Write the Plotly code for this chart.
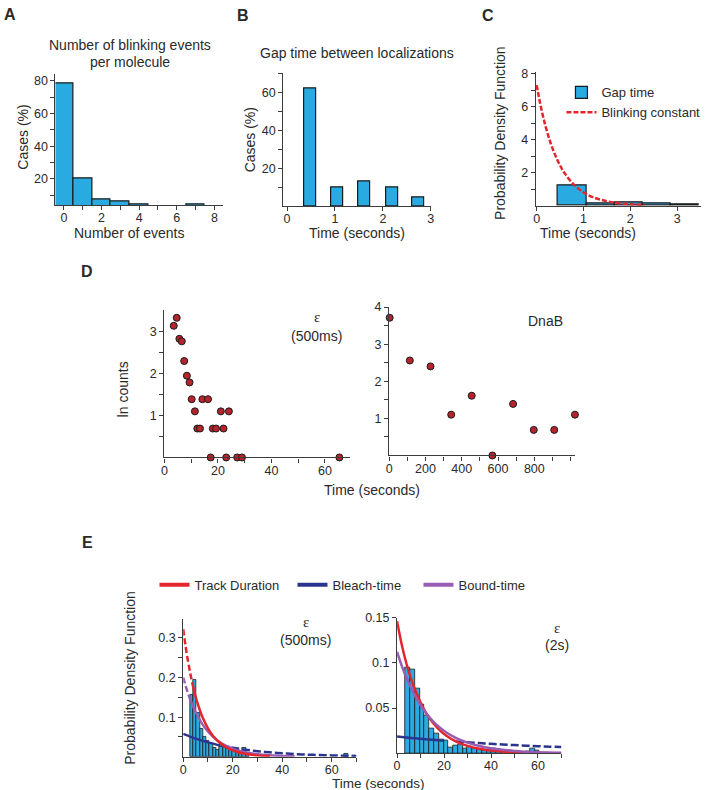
import plotly.graph_objects as go

W, H = 711, 790
def px(x): return x / W
def py(y): return 1 - y / H

# ---------------- data ----------------
# A: number of blinking events per molecule
a_events = [0, 1, 2, 3, 4, 5, 6, 7]
a_cases = [78.5, 20, 7.5, 6, 4.6, 0, 0, 4.6]

# B: gap time between localizations
b_time = [0.48, 1.05, 1.62, 2.19, 2.73]
b_cases = [62, 10, 13.3, 10, 5.1]

# C: gap-time PDF and blinking constant fit
c_time = [0.76, 1.36, 1.96, 2.56, 3.16]
c_pdf = [1.23, 0.17, 0.23, 0.17, 0.09]
c_fit_t = [0, 0.1, 0.2, 0.3, 0.4, 0.5, 0.6, 0.8, 1.0, 1.2, 1.5, 1.8, 2.1, 2.3]
c_fit_v = [7.3, 5.86, 4.71, 3.78, 3.04, 2.44, 1.96, 1.26, 0.81, 0.52, 0.27, 0.14, 0.072, 0.045]

# D: ln counts vs time
d1_time = [3.5, 4.6, 5.6, 6.5, 7.4, 8.4, 9.4, 10.2, 11.4, 12.3, 13.3, 14.2, 16.3,
           17.3, 18.1, 19.3, 21.1, 22.1, 23.1, 24.1, 27.2, 29.0, 65.4]
d1_ln = [3.14, 3.33, 2.83, 2.77, 2.30, 1.95, 1.79, 1.39, 1.10, 0.69, 0.69, 1.39, 1.39,
         0, 0.69, 0.69, 1.10, 0.69, 0, 1.10, 0, 0, 0]
d2_time = [3, 114, 228, 342, 455, 569, 683, 797, 910, 1024]
d2_ln = [3.71, 2.56, 2.40, 1.10, 1.61, 0, 1.39, 0.69, 0.69, 1.10]

# E left: epsilon 500 ms
e1_bin_t = [3.35, 4.68, 6.01, 7.34, 8.67, 10.0, 11.33, 12.66, 13.99, 15.32, 16.65,
            17.98, 19.31, 20.64, 21.97, 23.3, 24.63, 25.96, 65.9]
e1_bin_v = [0.157, 0.195, 0.11, 0.07, 0.05, 0.04, 0.032, 0.022, 0.018, 0.026, 0.026,
            0.022, 0.02, 0.018, 0.02, 0.012, 0.022, 0.008, 0.008]
e1_red_t = [0, 1, 2, 3, 4, 5, 6, 8, 10, 12, 15, 18, 21, 25, 30, 35]
e1_red_v = [0.322, 0.277, 0.239, 0.206, 0.177, 0.152, 0.131, 0.097, 0.072, 0.053,
            0.034, 0.022, 0.014, 0.0076, 0.0036, 0.0017]
e1_pur_t = [0, 1, 2, 3, 4, 5, 6, 8, 10, 12, 15, 18, 21, 25, 30, 35, 40, 45]
e1_pur_v = [0.2, 0.178, 0.159, 0.142, 0.127, 0.113, 0.101, 0.080, 0.064, 0.051,
            0.036, 0.026, 0.018, 0.0116, 0.0065, 0.0037, 0.0021, 0.0012]
e1_blu_t = [0, 5, 10, 15, 20, 25, 30, 35, 40, 45, 50, 55, 60, 65, 70]
e1_blu_v = [0.058, 0.0458, 0.0363, 0.0286, 0.0227, 0.0179, 0.0141, 0.0112, 0.0089,
            0.0070, 0.0055, 0.0044, 0.0035, 0.0027, 0.0022]

# E right: epsilon 2 s
e2_bin_t = [4.52, 6.56, 8.6, 10.64, 12.68, 14.72, 16.76, 18.8, 20.84, 22.88, 24.92,
            26.96, 29.0, 31.04, 33.08, 35.12, 37.16, 39.2, 41.24, 43.28, 45.32, 47.36,
            49.4, 51.44, 53.48, 55.52, 57.56, 59.6]
e2_bin_v = [0.0944, 0.0927, 0.0719, 0.0544, 0.0416, 0.027, 0.0222, 0.0153, 0.0142,
            0.0062, 0.0084, 0.0098, 0.0051, 0.0077, 0.005, 0.004, 0.003, 0.0035, 0.005,
            0.004, 0.0035, 0.003, 0.0015, 0, 0, 0.0015, 0.0055, 0.003]
e2_red_t = [0, 2, 4, 6, 8, 10, 12, 15, 18, 21, 25, 30, 35, 40, 50, 60, 70]
e2_red_v = [0.146, 0.120, 0.099, 0.082, 0.068, 0.056, 0.046, 0.0345, 0.0259, 0.0194,
            0.0132, 0.0082, 0.0051, 0.0031, 0.0012, 0.0005, 0.0002]
e2_pur_t = [0, 2, 4, 6, 8, 10, 12, 15, 18, 21, 25, 30, 35, 40, 50, 60, 70]
e2_pur_v = [0.112, 0.0966, 0.0833, 0.0718, 0.0617, 0.0529, 0.0456, 0.0362, 0.0289,
            0.0231, 0.0172, 0.0118, 0.0081, 0.0056, 0.0026, 0.0012, 0.0006]
e2_blu_t = [0, 5, 10, 15, 20, 25, 30, 35, 40, 45, 50, 55, 60, 65, 70]
e2_blu_v = [0.0186, 0.0173, 0.0161, 0.0150, 0.0140, 0.0130, 0.0121, 0.0113, 0.0105,
            0.0098, 0.0091, 0.0085, 0.0079, 0.0074, 0.0069]

# ---------------- styles ----------------
FONT = "Liberation Sans, Arial, sans-serif"
AX = "#3c3c3c"
TXT = "#2a2a2a"
BAR = "#29aae1"
RED = "#e3262d"
BLUE = "#2b3590"
PURPLE = "#9a5cb0"
DOT = "#b3242c"

fig = go.Figure()

def bar(x, y, w, xa, ya, name=None, legend=None, lw=1.2):
    fig.add_trace(go.Bar(x=x, y=y, width=w, xaxis=xa, yaxis=ya,
                         marker=dict(color=BAR, line=dict(color="#1a1a1a", width=lw)),
                         name=name, showlegend=name is not None,
                         legend=legend if legend else "legend"))

def line(x, y, xa, ya, color, dash="solid", width=2.5, name=None, legend="legend", show=False):
    fig.add_trace(go.Scatter(x=x, y=y, xaxis=xa, yaxis=ya, mode="lines",
                             line=dict(color=color, width=width, dash=dash, shape="spline"),
                             name=name, showlegend=show, legend=legend, hoverinfo="skip"))

def split(t, v, tcut):
    a = [(a_, b_) for a_, b_ in zip(t, v) if a_ <= tcut]
    b = [(a_, b_) for a_, b_ in zip(t, v) if a_ >= tcut]
    return [p[0] for p in a], [p[1] for p in a], [p[0] for p in b], [p[1] for p in b]

# A
bar(a_events, a_cases, 1.0, "x", "y")
# B
bar(b_time, b_cases, 0.25, "x2", "y2")
# C
bar(c_time, c_pdf, 0.6, "x3", "y3", name="Gap time", legend="legend")
line(c_fit_t, c_fit_v, "x3", "y3", RED, dash="5px,2px", width=2.5,
     name="Blinking constant", legend="legend", show=True)
# D
for xs, ys, xa, ya in [(d1_time, d1_ln, "x4", "y4"), (d2_time, d2_ln, "x5", "y5")]:
    fig.add_trace(go.Scatter(x=xs, y=ys, xaxis=xa, yaxis=ya, mode="markers",
                             marker=dict(size=7, color=DOT, line=dict(color="#1a1a1a", width=1)),
                             showlegend=False, cliponaxis=False))
# E left
bar(e1_bin_t, e1_bin_v, 1.33, "x6", "y6", lw=0.8)
t1, v1, t2, v2 = split(e1_blu_t, e1_blu_v, 15)
line(t1, v1, "x6", "y6", BLUE)
line(t2, v2, "x6", "y6", BLUE, dash="8px,3px")
t1, v1, t2, v2 = split(e1_pur_t, e1_pur_v, 3)
line(t1, v1, "x6", "y6", PURPLE, dash="6px,3px")
line(t2, v2, "x6", "y6", PURPLE)
t1, v1, t2, v2 = split(e1_red_t, e1_red_v, 4)
line(t1, v1, "x6", "y6", RED, dash="6px,3px")
line(t2, v2, "x6", "y6", RED)
# E right
bar(e2_bin_t, e2_bin_v, 2.04, "x7", "y7", lw=0.8)
t1, v1, t2, v2 = split(e2_blu_t, e2_blu_v, 23)
line(t1, v1, "x7", "y7", BLUE)
line(t2, v2, "x7", "y7", BLUE, dash="8px,3px")
line(e2_red_t, e2_red_v, "x7", "y7", RED)
line(e2_pur_t, e2_pur_v, "x7", "y7", PURPLE)

# E legend entries
for nm, col, lwid in [("Track Duration", RED, 93), ("Bleach-time", BLUE, 81),
                      ("Bound-time", PURPLE, None)]:
    kw = dict(legendwidth=lwid) if lwid else {}
    fig.add_trace(go.Scatter(x=[None], y=[None], xaxis="x7", yaxis="y7", mode="lines",
                             line=dict(color=col, width=4), name=nm,
                             showlegend=True, legend="legend2", **kw))

# ---------------- axes ----------------
def axis(dom, rng, tickvals, anchor, minor=None, ticktext=None, is_x=True):
    d = dict(domain=dom, range=rng, tickmode="array", tickvals=tickvals, anchor=anchor,
             showline=True, linecolor=AX, linewidth=1.2, ticks="outside", ticklen=4,
             tickwidth=1.1, tickcolor=AX, showgrid=False, zeroline=False,
             tickfont=dict(size=12.5, color=TXT, family=FONT), fixedrange=True)
    if is_x:
        d["ticklabelstandoff"] = -3
    if ticktext is not None:
        d["ticktext"] = ticktext
    if minor is not None:
        d["minor"] = dict(tickmode="array", tickvals=minor, ticks="outside", ticklen=4,
                          tickwidth=1.1, tickcolor=AX, showgrid=False)
    return d

def xd(a, b): return [px(a), px(b)]
def yd(top, bot): return [py(bot), py(top)]

lay = {}
lay["xaxis"] = axis(xd(53, 222), [-0.45, 8.45], [0, 2, 4, 6, 8], "y", minor=[1, 3, 5, 7])
lay["yaxis"] = axis(yd(68, 200), [3.8, 84], [20, 40, 60, 80], "x", minor=[10, 30, 50, 70], is_x=False)
lay["xaxis2"] = axis(xd(283, 432), [-0.08, 3.0], [0, 1, 2, 3], "y2")
lay["yaxis2"] = axis(yd(67, 201), [0.25, 70], [20, 40, 60], "x2", minor=[10, 30, 50, 70], is_x=False)
lay["xaxis3"] = axis(xd(538, 705), [-0.02, 3.51], [0, 1, 2, 3], "y3")
lay["yaxis3"] = axis(yd(66, 200.5), [0, 8.07], [2, 4, 6, 8], "x3", minor=[1, 3, 5, 7], is_x=False)
lay["xaxis4"] = axis(xd(163, 350), [0, 69.2], [0, 20, 40, 60], "y4", minor=[10, 30, 50, 70])
lay["yaxis4"] = axis(yd(306, 454.5), [0, 3.51], [1, 2, 3], "x4", minor=[0.5, 1.5, 2.5], is_x=False)
lay["xaxis5"] = axis(xd(390, 578), [0, 1026], [0, 200, 400, 600, 800, 1000], "y5",
                     minor=[100, 300, 500, 700, 900],
                     ticktext=["0", "200", "400", "600", "800", ""])
lay["yaxis5"] = axis(yd(302.7, 452.5), [0, 4.0], [1, 2, 3, 4], "x5", minor=[0.5, 1.5, 2.5, 3.5], is_x=False)
lay["xaxis6"] = axis(xd(182, 357), [0, 70], [0, 20, 40, 60], "y6", minor=[10, 30, 50, 70])
lay["yaxis6"] = axis(yd(617.3, 756.5), [0, 0.348], [0.1, 0.2, 0.3], "x6", minor=[0.05, 0.15, 0.25], is_x=False)
lay["xaxis7"] = axis(xd(398, 564), [0, 70], [0, 20, 40, 60], "y7", minor=[10, 30, 50, 70])
lay["yaxis7"] = axis(yd(616, 753), [0, 0.15], [0.05, 0.1, 0.15], "x7",
                     ticktext=["0.05", "0.1", "0.15"], is_x=False)

# ---------------- text ----------------
ann = []
def txt(x, y, s, size=14, angle=0, fam=FONT, xanchor="center"):
    ann.append(dict(x=px(x), y=py(y), xref="paper", yref="paper", text=s, showarrow=False,
                    font=dict(size=size, color=TXT, family=fam), textangle=angle,
                    xanchor=xanchor, yanchor="middle"))

# panel letters
for letter, x, y in [("A", 7, 8), ("B", 242, 9), ("C", 490, 9), ("D", 85, 267), ("E", 85, 540)]:
    txt(x, y, "<b>%s</b>" % letter, size=16)

# titles
txt(128, 38, "Number of blinking events", 14)
txt(128, 55, "per molecule", 14)
txt(358, 46, "Gap time between localizations", 14)

# axis titles
txt(20, 131, "Cases (%)", 14, angle=-90)
txt(128, 228, "Number of events", 14)
txt(249, 134, "Cases (%)", 14, angle=-90)
txt(358, 228, "Time (seconds)", 14)
txt(502, 127, "Probability Density Function", 14, angle=-90)
txt(591, 228, "Time (seconds)", 14)
txt(121, 386, "ln counts", 14, angle=-90)
txt(373, 487, "Time (seconds)", 14)
txt(128, 677, "Probability Density Function", 14, angle=-90)
txt(379, 783, "Time (seconds)", 13.5)

# in-panel labels
SERIF = "Liberation Serif, Times New Roman, serif"
txt(316.7, 313, "ε", 15, fam=SERIF)
txt(316.7, 332, "(500ms)", 14)
txt(548, 317, "DnaB", 14)
txt(305.7, 621, "ε", 15, fam=SERIF)
txt(305.7, 639, "(500ms)", 14)
txt(560, 627, "ε", 15, fam=SERIF)
txt(560, 644, "(2s)", 14)

fig.update_layout(
    width=W, height=H, margin=dict(l=0, r=0, t=0, b=0),
    paper_bgcolor="white", plot_bgcolor="white",
    font=dict(family=FONT, color=TXT, size=13),
    barmode="overlay", bargap=0,
    annotations=ann,
    legend=dict(x=px(564), y=py(71), xanchor="left", yanchor="top",
                bgcolor="rgba(0,0,0,0)", font=dict(size=13, color=TXT, family=FONT),
                tracegroupgap=0),
    legend2=dict(x=px(153), y=py(583), xanchor="left", yanchor="middle", orientation="h",
                 bgcolor="rgba(0,0,0,0)", font=dict(size=13, color=TXT, family=FONT)),
    **lay,
)

fig.write_html(
    "out.html",
    config={"displayModeBar": False, "staticPlot": False},
    post_script=(
        "document.documentElement.style.margin='0px';"
        "document.body.style.margin='0px';"
        "document.body.style.padding='0px';"
        "document.documentElement.style.overflow='hidden';"
        "document.body.style.overflow='hidden';"
        "var gd=document.getElementById('{plot_id}');"
        "gd.style.position='fixed';gd.style.top='0px';gd.style.left='0px';"
    ),
)
